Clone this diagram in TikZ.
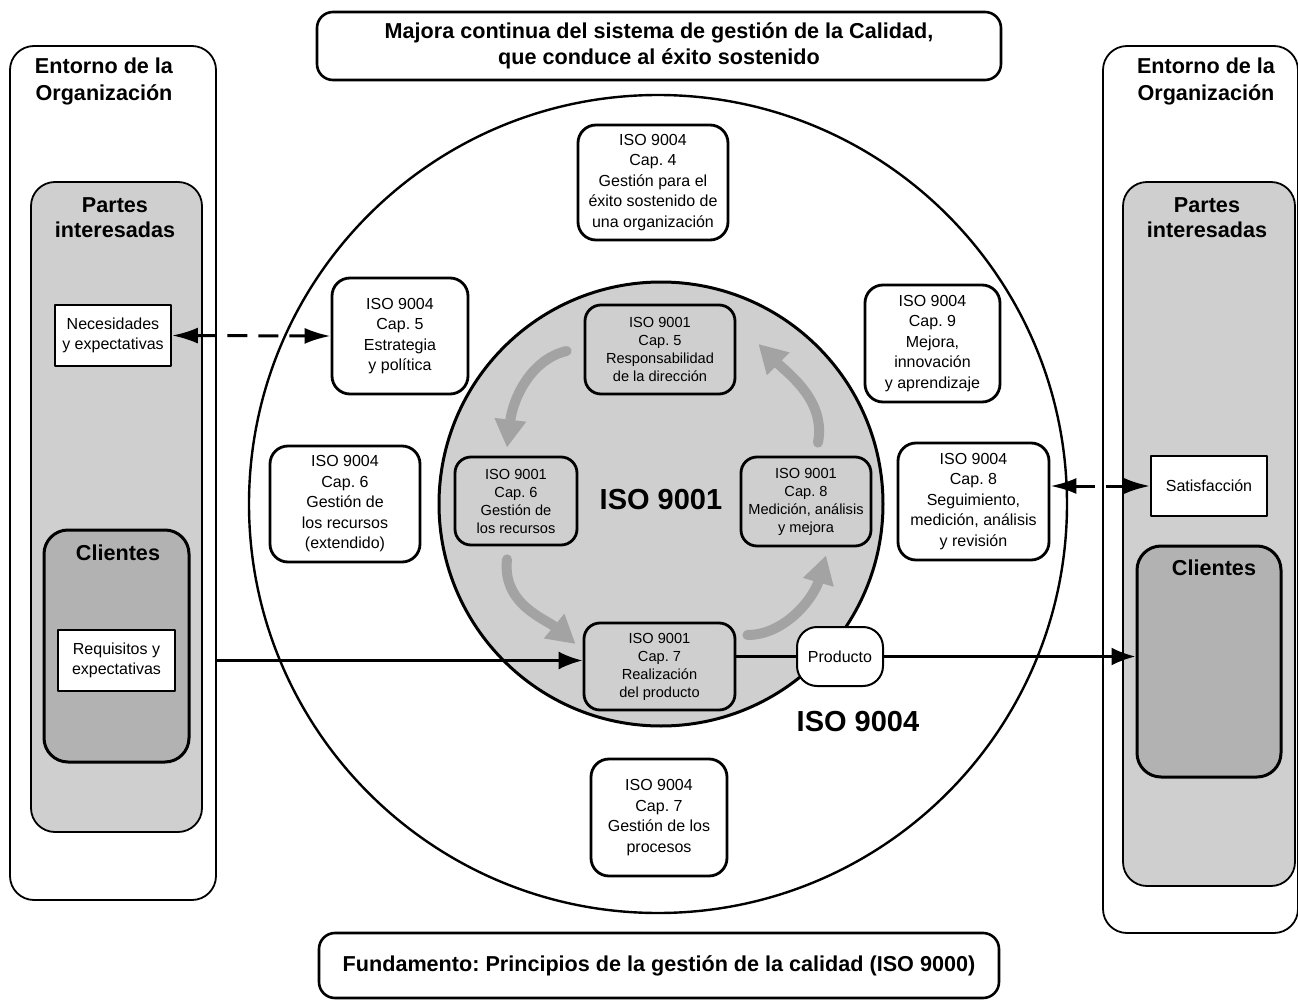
\documentclass[tikz,border=0pt]{standalone}
\usepackage{fontspec}
\setmainfont{Liberation Sans}
\usepackage{xcolor}
\usetikzlibrary{arrows.meta, positioning}
\definecolor{grisclaro}{RGB}{207,207,207}
\definecolor{grisoscuro}{RGB}{178,178,178}
\definecolor{grisflecha}{RGB}{163,163,163}
\newcommand{\fchica}{\fontsize{8}{10.25}\selectfont}
\newcommand{\fmini}{\fontsize{7.3}{9}\selectfont}
\newcommand{\fcabeza}{\fontsize{10.8}{13.5}\selectfont\bfseries}
\frenchspacing

\begin{document}
\begin{tikzpicture}[x=0.5pt, y=-0.5pt, line cap=round, line join=round, >=Latex,
	marco/.style={draw, line width=0.9pt, rounded corners=12pt, inner sep=0pt},
	titulo/.style={draw, line width=1.3pt, rounded corners=8pt, fill=white, align=center, font=\fcabeza},
	cabeza/.style={align=center, font=\fcabeza},
	caja4/.style={draw, line width=1.4pt, rounded corners=9pt, fill=white, align=center, font=\fchica, inner sep=0pt},
	caja1/.style={draw, line width=1.4pt, rounded corners=8pt, fill=grisclaro, align=center, font=\fmini, inner sep=0pt},
	nota/.style={draw, line width=0.9pt, fill=white, align=center, font=\fchica, inner sep=0pt},
	ciclo/.style={grisflecha, line width=5pt, -{Triangle[width=15pt,length=14pt]}},
	flujo/.style={line width=1.4pt, -{Latex[length=12pt,width=9pt]}},
	enlace/.style={line width=1.5pt, line cap=butt, dash pattern=on 10pt off 5.5pt, {Latex[length=13pt,width=8pt]}-{Latex[length=13pt,width=8pt]}}]
	\useasboundingbox (0,0) rectangle (1298,1001);
	\node[marco, minimum width=103pt, minimum height=427pt] (entL) at (113,473) {};
	\node[marco, minimum width=97.5pt, minimum height=443.5pt] (entR) at (1200.5,489.5) {};
	\node[marco, fill=grisclaro, minimum width=85.5pt, minimum height=325pt] (parL) at (116.5,507) {};
	\node[marco, fill=grisclaro, minimum width=86pt, minimum height=352pt] (parR) at (1209,534) {};
	\node[marco, fill=grisoscuro, line width=1.5pt, minimum width=72.5pt, minimum height=116pt] (cliL) at (116.5,646) {};
	\node[marco, fill=grisoscuro, line width=1.5pt, minimum width=72pt, minimum height=115.5pt] (cliR) at (1209,661.5) {};
	\node[cabeza] (entLt) at (104,81) {Entorno de la\\Organización};
	\node[cabeza] (entRt) at (1206,81) {Entorno de la\\Organización};
	\node[cabeza, font=\fontsize{10.8}{12.5}\selectfont\bfseries] (parLt) at (115,217.5) {Partes\\interesadas};
	\node[cabeza, font=\fontsize{10.8}{12.5}\selectfont\bfseries] (parRt) at (1207,217.5) {Partes\\interesadas};
	\node[cabeza] (cliLt) at (118,553) {Clientes};
	\node[cabeza] (cliRt) at (1214,568) {Clientes};
	\node[nota, minimum width=58pt, minimum height=30.5pt] (nec) at (113,335.5) {Necesidades\\y expectativas};
	\node[nota, minimum width=58.5pt, minimum height=30.5pt] (req) at (116.5,660.5) {Requisitos y\\expectativas};
	\node[nota, minimum width=58pt, minimum height=30pt] (sat) at (1209,486) {Satisfacción};
	\node[titulo, minimum width=342pt, minimum height=34pt, font=\fontsize{10.8}{13}\selectfont\bfseries] (mejora) at (659,46) {Majora continua del sistema de gestión de la Calidad,\\que conduce al éxito sostenido};
	\node[titulo, minimum width=340pt, minimum height=32.5pt] (base) at (659,965.5) {Fundamento: Principios de la gestión de la calidad (ISO 9000)};
	\node[circle, draw, line width=1.2pt, minimum size=409pt, inner sep=0pt] (anillo) at (658,504) {};
	\node[circle, draw, fill=grisclaro, line width=1.5pt, minimum size=222pt, inner sep=0pt] (nucleo) at (661,504) {};
	\node[font=\fontsize{14.5}{16}\selectfont\bfseries] (n9001) at (661,500) {ISO 9001};
	\node[font=\fontsize{14.5}{16}\selectfont\bfseries] (n9004) at (858,722) {ISO 9004};
	\node[caja4, minimum width=75pt, minimum height=57.5pt] (a4) at (653,182.5) {ISO 9004\\Cap. 4\\Gestión para el\\éxito sostenido de\\una organización};
	\node[caja4, minimum width=68pt, minimum height=58pt] (a5) at (400,336) {ISO 9004\\Cap. 5\\Estrategia\\y política};
	\node[caja4, minimum width=67.5pt, minimum height=58.5pt] (a9) at (932.5,343.5) {ISO 9004\\Cap. 9\\Mejora,\\innovación\\y aprendizaje};
	\node[caja4, minimum width=75pt, minimum height=58pt] (a6) at (345,504) {ISO 9004\\Cap. 6\\Gestión de\\los recursos\\(extendido)};
	\node[caja4, minimum width=75.5pt, minimum height=58.5pt] (a8) at (973.5,501.5) {ISO 9004\\Cap. 8\\Seguimiento,\\medición, análisis\\y revisión};
	\node[caja4, minimum width=68pt, minimum height=58.5pt] (a7) at (659,817.5) {ISO 9004\\Cap. 7\\Gestión de los\\procesos};
	\node[caja1, minimum width=75pt, minimum height=44.5pt] (b5) at (660,349.5) {ISO 9001\\Cap. 5\\Responsabilidad\\de la dirección};
	\node[caja1, minimum width=61pt, minimum height=44pt] (b6) at (516,501) {ISO 9001\\Cap. 6\\Gestión de\\los recursos};
	\node[caja1, minimum width=65pt, minimum height=44.5pt] (b8) at (806,501.5) {ISO 9001\\Cap. 8\\Medición, análisis\\y mejora};
	\node[caja1, minimum width=75.5pt, minimum height=43.5pt] (b7) at (659.5,666.5) {ISO 9001\\Cap. 7\\Realización\\del producto};
	\node[caja4, line width=1pt, rounded corners=10pt, minimum width=43pt, minimum height=29.5pt] (prod) at (840,656.5) {Producto};
	\draw[ciclo] ([shift={(-17,1.5)}]b5.west) .. controls +(-35,8) and +(6,-50) .. ([shift={(-9,-8)}]b6.north);
	\draw[ciclo] ([shift={(-9,13)}]b6.south) .. controls +(-5,45) and +(-30,-25) .. ([shift={(-7,-22.5)}]b7.west);
	\draw[ciclo] ([shift={(11,-31.5)}]b7.east) .. controls +(38,0) and +(-12,42) .. ([shift={(20,8)}]b8.south);
	\draw[ciclo] ([shift={(12,-13)}]b8.north) .. controls +(8,-42) and +(30,30) .. ([shift={(22,-5.5)}]b5.east);
	\draw[enlace] (nec.east) -- (a5.west);
	\draw[enlace] (sat.west -| a8.east) -- (sat.west);
	\draw[flujo] (req -| entL.east) -- (req -| b7.west);
	\draw[line width=1.4pt] (prod -| b7.east) -- (prod.west);
	\draw[flujo] (prod.east) -- (prod -| cliR.west);
\end{tikzpicture}
\end{document}
